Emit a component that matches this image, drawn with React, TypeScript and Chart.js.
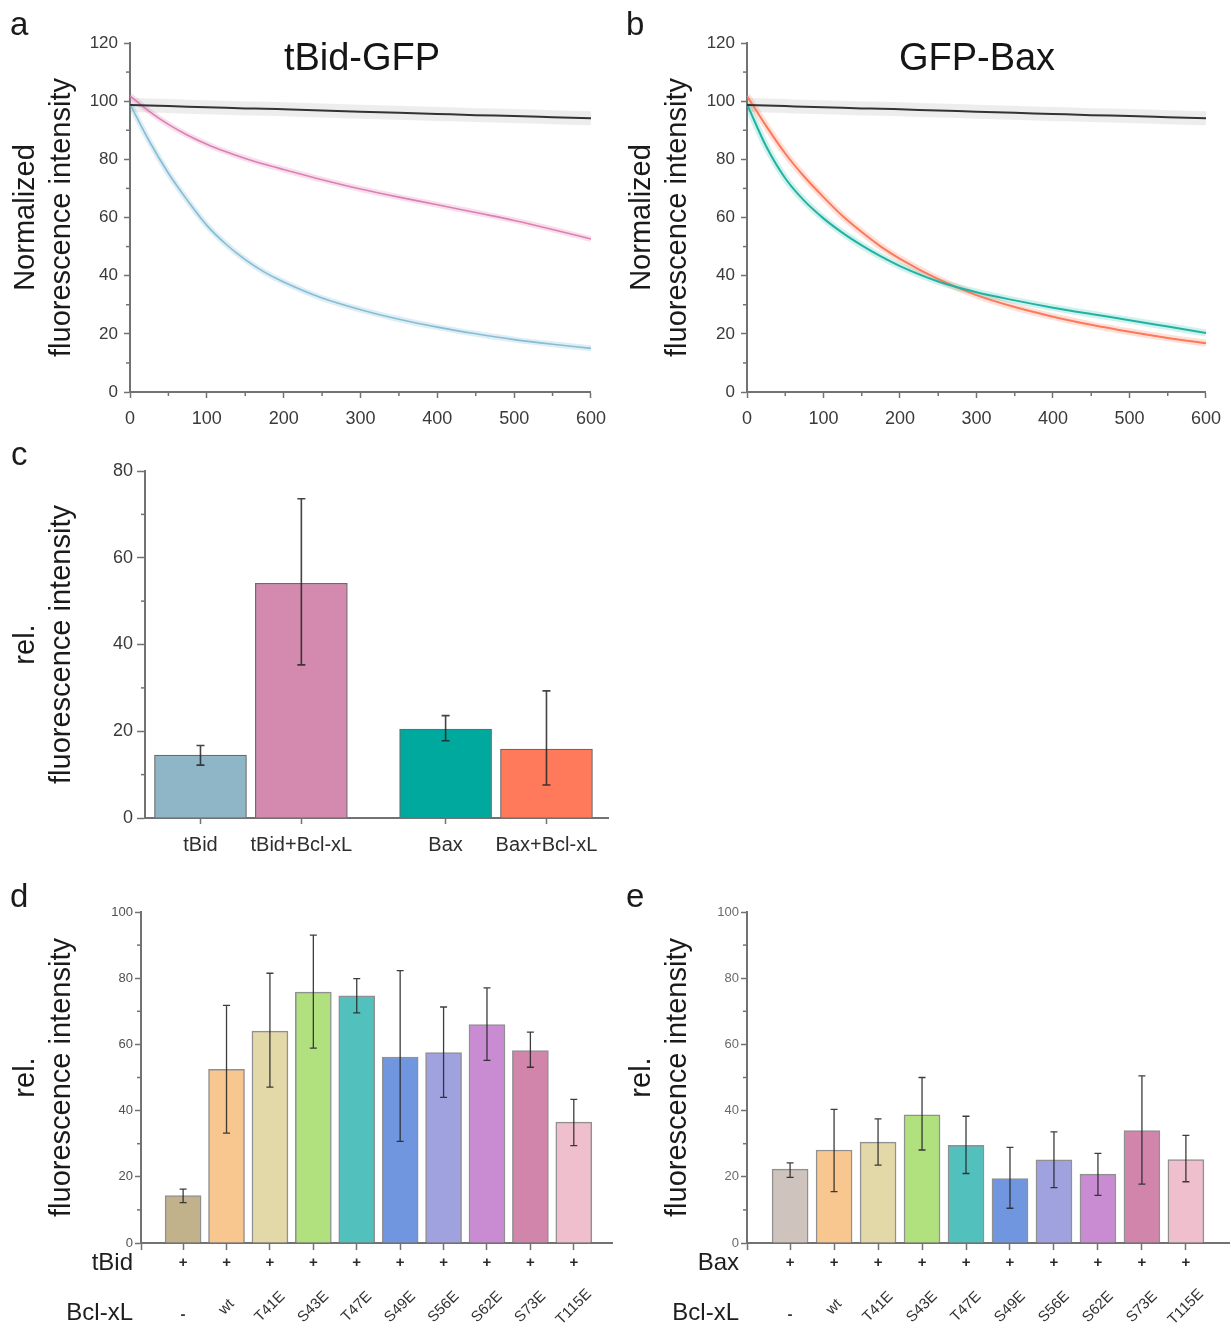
import React, { useEffect, useRef } from 'react';
import { Chart, registerables } from 'chart.js';

Chart.register(...registerables);

// ---------- data ----------
// a / b : fluorescence decay (time in s)
const TIME = [0, 25, 50, 75, 100, 125, 150, 175, 200, 250, 300, 350, 400, 450, 500, 550, 600];
const CTRL = [98.7, 98.5, 98.3, 98.1, 97.9, 97.7, 97.5, 97.4, 97.2, 96.8, 96.4, 96.0, 95.6, 95.2, 94.9, 94.5, 94.1];
const TBID = [99, 86.3, 75.2, 65.8, 57.3, 50.8, 45.5, 41.2, 37.8, 32.3, 28.3, 25, 22.3, 20, 18, 16.4, 15];
const TBID_BCLXL = [101.8, 96.5, 92, 88.3, 85.2, 82.6, 80.3, 78.3, 76.5, 73, 69.8, 67, 64.4, 61.7, 59, 55.9, 52.6];
const BAX = [99, 84.5, 73.5, 65.7, 59.7, 54.7, 50.4, 46.6, 43.3, 38, 34.3, 31.5, 29, 26.8, 24.7, 22.5, 20.3];
const BAX_BCLXL = [101.8, 91.5, 82, 74, 67, 60.5, 55, 50, 45.8, 38.8, 33.3, 29.2, 25.9, 23.1, 20.7, 18.6, 16.8];
const TIME_TICKS = [0, 100, 200, 300, 400, 500, 600];

// c : relative fluorescence intensity
const C_LABELS = ['tBid', 'tBid+Bcl-xL', 'Bax', 'Bax+Bcl-xL'];
const C_MEAN = [14.5, 54.1, 20.5, 15.9];
const C_LO = [12.2, 35.3, 17.8, 7.6];
const C_HI = [16.7, 73.6, 23.6, 29.3];

// d / e : Bcl-xL mutants
const MUTANTS = ['-', 'wt', 'T41E', 'S43E', 'T47E', 'S49E', 'S56E', 'S62E', 'S73E', 'T115E'];
const PLUS_ROW = ['+', '+', '+', '+', '+', '+', '+', '+', '+', '+'];
const D_MEAN = [14.3, 52.5, 64, 75.8, 74.7, 56.2, 57.5, 66, 58.1, 36.5];
const D_LO = [12.2, 33.2, 47.1, 58.9, 69.5, 30.7, 44, 55.2, 53.1, 29.4];
const D_HI = [16.3, 71.8, 81.5, 93, 79.9, 82.3, 71.3, 77.1, 63.7, 43.4];
const E_MEAN = [22.3, 28.1, 30.5, 38.7, 29.5, 19.5, 25.1, 20.8, 34, 25.2];
const E_LO = [19.8, 15.5, 23.5, 28.1, 21, 10.5, 16.7, 14.4, 17.8, 18.5];
const E_HI = [24.2, 40.4, 37.5, 50, 38.3, 28.9, 33.6, 27.1, 50.5, 32.5];

// ---------- styles ----------
const FONT = "'Liberation Sans', Arial, Helvetica, sans-serif";
const AXIS = '#727272';
const C_COLORS = ['#8fb6c6', '#d38aae', '#00a99d', '#ff7a5a'];
const C_SLOTS = [1, 2, 3.43, 4.43];
const D_COLORS = ['#c2b28c', '#f7c78f', '#e3d8a8', '#b1e07f', '#52c0bd', '#6f96de', '#a0a2e0', '#c98bd2', '#d185ab', '#f0bfcd'];
const E_COLORS = ['#cfc3bd', '#f7c78f', '#e3d8a8', '#b1e07f', '#52c0bd', '#6f96de', '#a0a2e0', '#c98bd2', '#d185ab', '#f0bfcd'];

// ---------- plugins ----------
const minorTicksPlugin = {
  id: 'minorTicks',
  afterDraw(chart: any, _a: any, o: any) {
    if (!o || (!o.x && !o.y)) return;
    const ctx = chart.ctx;
    const { left, bottom } = chart.chartArea;
    const len = o.len || 4;
    ctx.save();
    ctx.strokeStyle = o.color || AXIS;
    ctx.lineWidth = 1.5;
    if (o.y) {
      const s = chart.scales.y;
      for (let k = 1; s.min + k * o.y < s.max; k++) {
        if (k % 2 === 0) continue;
        const p = s.getPixelForValue(s.min + k * o.y);
        ctx.beginPath();
        ctx.moveTo(left, p);
        ctx.lineTo(left - len, p);
        ctx.stroke();
      }
    }
    if (o.x) {
      const s = chart.scales.x;
      for (let k = 1; s.min + k * o.x < s.max; k++) {
        if (k % 2 === 0) continue;
        const p = s.getPixelForValue(s.min + k * o.x);
        ctx.beginPath();
        ctx.moveTo(p, bottom);
        ctx.lineTo(p, bottom + len);
        ctx.stroke();
      }
    }
    ctx.restore();
  },
};

const errorBarPlugin = {
  id: 'errorBars',
  afterDatasetsDraw(chart: any, _a: any, o: any) {
    if (!o || !o.lo) return;
    const ctx = chart.ctx;
    const ys = chart.scales.y;
    const meta = chart.getDatasetMeta(0);
    ctx.save();
    ctx.strokeStyle = o.color;
    ctx.lineWidth = o.width;
    meta.data.forEach((bar: any, i: number) => {
      const x = bar.x;
      const y1 = ys.getPixelForValue(o.lo[i]);
      const y2 = ys.getPixelForValue(o.hi[i]);
      ctx.beginPath();
      ctx.moveTo(x, y1);
      ctx.lineTo(x, y2);
      ctx.moveTo(x - o.cap, y1);
      ctx.lineTo(x + o.cap, y1);
      ctx.moveTo(x - o.cap, y2);
      ctx.lineTo(x + o.cap, y2);
      ctx.stroke();
    });
    ctx.restore();
  },
};

const rowsPlugin = {
  id: 'rows',
  afterDraw(chart: any, _a: any, o: any) {
    if (!o || !o.marks) return;
    const ctx = chart.ctx;
    const xs = chart.scales.x;
    const { left, bottom } = chart.chartArea;
    ctx.save();
    ctx.fillStyle = '#1e1e1e';
    ctx.textBaseline = 'middle';
    ctx.font = `24px ${FONT}`;
    ctx.textAlign = 'right';
    ctx.fillText(o.title1, left - 8, bottom + 20);
    ctx.fillText(o.title2, left - 8, bottom + 70);
    ctx.textAlign = 'center';
    ctx.fillStyle = '#2a2a2a';
    ctx.font = `bold 15px ${FONT}`;
    o.marks.forEach((m: string, i: number) => {
      ctx.fillText(m, xs.getPixelForValue(i + 1), bottom + 20);
    });
    ctx.fillStyle = '#333';
    ctx.font = `15px ${FONT}`;
    o.labels.forEach((lab: string, i: number) => {
      const x = xs.getPixelForValue(i + 1);
      ctx.save();
      if (lab === '-') {
        ctx.font = `bold 15px ${FONT}`;
        ctx.translate(x, bottom + 72);
      } else {
        ctx.translate(x, bottom + 64);
        ctx.rotate(-Math.PI / 4);
      }
      ctx.fillText(lab, 0, 0);
      ctx.restore();
    });
    ctx.restore();
  },
};

// ---------- helpers ----------
const pts = (xs: number[], ys: number[]) => xs.map((x, i) => ({ x, y: ys[i] }));

function lineDs(ys: number[], color: string, width: number) {
  return {
    data: pts(TIME, ys),
    borderColor: color,
    borderWidth: width,
    pointRadius: 0,
    cubicInterpolationMode: 'monotone',
    fill: false,
  };
}

function axisTitle(lines: string[]) {
  return {
    display: true,
    text: lines,
    color: '#1a1a1a',
    font: { family: FONT, size: 29, lineHeight: 36 / 29 },
    padding: { top: 8, bottom: 0 },
  };
}

function yAxis(max: number, width: number, fontSize: number, color: string, tl: number, pad: number, lines: string[]) {
  return {
    min: 0,
    max,
    ticks: { stepSize: 20, color, font: { family: FONT, size: fontSize }, padding: pad },
    grid: { drawOnChartArea: false, tickLength: tl, tickColor: AXIS, tickWidth: 1.5 },
    border: { color: AXIS, width: 2 },
    title: axisTitle(lines),
    afterFit: (s: any) => {
      s.width = width;
    },
  };
}

function decayConfig(series: any[], yWidth: number, padRight: number) {
  return {
    type: 'line',
    data: { datasets: series },
    options: {
      responsive: false,
      animation: false,
      events: [],
      layout: { padding: { top: 43, right: padRight, bottom: 8, left: 0 } },
      plugins: {
        legend: { display: false },
        tooltip: { enabled: false },
        minorTicks: { x: 50, y: 10, len: 4, color: AXIS },
      },
      scales: {
        x: {
          type: 'linear',
          min: 0,
          max: 600,
          afterBuildTicks: (s: any) => {
            s.ticks = TIME_TICKS.map((v) => ({ value: v }));
          },
          ticks: { autoSkip: false, maxRotation: 0, color: '#3a3a3a', font: { family: FONT, size: 18 }, padding: 10 },
          grid: { drawOnChartArea: false, tickLength: 6, tickColor: AXIS, tickWidth: 1.5 },
          border: { color: AXIS, width: 2 },
          afterFit: (s: any) => {
            s.height = 40;
          },
        },
        y: yAxis(120, yWidth, 17, '#3a3a3a', 6, 6, ['Normalized', 'fluorescence intensity']),
      },
    },
    plugins: [minorTicksPlugin],
  };
}

function configA() {
  return decayConfig(
    [
      lineDs(CTRL, '#333333', 2),
      lineDs(TBID_BCLXL, '#dc7fb3', 1.6),
      lineDs(TBID, '#86bdd4', 1.6),
      lineDs(CTRL, 'rgba(80,80,80,0.1)', 14),
      lineDs(TBID_BCLXL, 'rgba(225,140,190,0.28)', 6),
      lineDs(TBID, 'rgba(150,200,222,0.3)', 6),
    ],
    130,
    25
  );
}

function configB() {
  return decayConfig(
    [
      lineDs(CTRL, '#333333', 2),
      lineDs(BAX, '#20b3a3', 2),
      lineDs(BAX_BCLXL, '#fb7a5c', 2),
      lineDs(CTRL, 'rgba(80,80,80,0.1)', 14),
      lineDs(BAX, 'rgba(40,190,170,0.22)', 7),
      lineDs(BAX_BCLXL, 'rgba(255,130,100,0.25)', 7),
    ],
    131,
    23
  );
}

function configC() {
  return {
    type: 'bar',
    data: {
      datasets: [
        {
          data: pts(C_SLOTS, C_MEAN),
          backgroundColor: C_COLORS,
          borderColor: '#6a6a6a',
          borderWidth: 1.2,
          barThickness: 92,
        },
      ],
    },
    options: {
      responsive: false,
      animation: false,
      events: [],
      layout: { padding: { top: 31, right: 8, bottom: 8, left: 0 } },
      plugins: {
        legend: { display: false },
        tooltip: { enabled: false },
        minorTicks: { y: 10, len: 4, color: AXIS },
        errorBars: { lo: C_LO, hi: C_HI, color: 'rgba(35,35,35,0.85)', width: 1.6, cap: 4 },
      },
      scales: {
        x: {
          type: 'linear',
          min: 0.45,
          max: 5.04,
          offset: false,
          afterBuildTicks: (s: any) => {
            s.ticks = C_SLOTS.map((v) => ({ value: v }));
          },
          ticks: {
            autoSkip: false,
            maxRotation: 0,
            color: '#2e2e2e',
            font: { family: FONT, size: 20 },
            padding: 9,
            callback: (_v: any, i: number) => C_LABELS[i],
          },
          grid: { drawOnChartArea: false, offset: false, tickLength: 6, tickColor: AXIS, tickWidth: 1.5 },
          border: { color: AXIS, width: 2 },
          afterFit: (s: any) => {
            s.height = 44;
          },
        },
        y: yAxis(80, 145, 18, '#3a3a3a', 8, 4, ['rel.', 'fluorescence intensity']),
      },
    },
    plugins: [minorTicksPlugin, errorBarPlugin],
  };
}

function mutantConfig(mean: number[], lo: number[], hi: number[], colors: string[], rowTitle: string, yWidth: number, xMin: number, xMax: number, padRight: number, tickColor: string) {
  return {
    type: 'bar',
    data: {
      datasets: [
        {
          data: MUTANTS.map((_, i) => ({ x: i + 1, y: mean[i] })),
          backgroundColor: colors,
          borderColor: 'rgba(125,125,125,0.85)',
          borderWidth: 1.5,
          barThickness: 36,
        },
      ],
    },
    options: {
      responsive: false,
      animation: false,
      events: [],
      layout: { padding: { top: 42, right: padRight, bottom: 6, left: 0 } },
      plugins: {
        legend: { display: false },
        tooltip: { enabled: false },
        minorTicks: { y: 10, len: 4, color: AXIS },
        errorBars: { lo, hi, color: 'rgba(40,40,40,0.9)', width: 1.3, cap: 3.5 },
        rows: { title1: rowTitle, title2: 'Bcl-xL', marks: PLUS_ROW, labels: MUTANTS },
      },
      scales: {
        x: {
          type: 'linear',
          min: xMin,
          max: xMax,
          offset: false,
          afterBuildTicks: (s: any) => {
            s.ticks = [xMin, ...MUTANTS.map((_, i) => i + 1)].map((v) => ({ value: v }));
          },
          ticks: { display: false, autoSkip: false },
          grid: { drawOnChartArea: false, offset: false, tickLength: 7, tickColor: AXIS, tickWidth: 1.5 },
          border: { color: AXIS, width: 2 },
          afterFit: (s: any) => {
            s.height = 80;
          },
        },
        y: {
          ...yAxis(100, yWidth, 13, tickColor, 6, 2, ['rel.', 'fluorescence intensity']),
        },
      },
    },
    plugins: [minorTicksPlugin, errorBarPlugin, rowsPlugin],
  };
}

function configD() {
  return mutantConfig(D_MEAN, D_LO, D_HI, D_COLORS, 'tBid', 141, 0.03, 10.88, 4, '#505050');
}

function configE() {
  return mutantConfig(E_MEAN, E_LO, E_HI, E_COLORS, 'Bax', 131, 0.02, 10.98, 2, '#6a6a6a');
}

// ---------- components ----------
function Panel({ left, top, width, height, make }: { left: number; top: number; width: number; height: number; make: () => any }) {
  const ref = useRef<HTMLCanvasElement>(null);
  useEffect(() => {
    const chart = new Chart(ref.current as HTMLCanvasElement, make());
    return () => chart.destroy();
  }, []);
  return (
    <div style={{ position: 'absolute', left, top, width, height }}>
      <canvas ref={ref} width={width} height={height} style={{ display: 'block', width, height }} />
    </div>
  );
}

const letterStyle = (left: number, top: number): React.CSSProperties => ({
  position: 'absolute',
  left,
  top,
  fontFamily: FONT,
  fontSize: 33,
  lineHeight: '33px',
  color: '#1a1a1a',
});

const titleStyle = (cx: number): React.CSSProperties => ({
  position: 'absolute',
  left: cx - 120,
  width: 240,
  top: 38,
  textAlign: 'center',
  fontFamily: FONT,
  fontSize: 38,
  lineHeight: '38px',
  color: '#151515',
});

export default function App() {
  return (
    <div
      style={{
        position: 'absolute',
        left: 0,
        top: 0,
        width: 1231,
        height: 1329,
        background: '#ffffff',
        overflow: 'hidden',
      }}
    >
      <Panel left={0} top={0} width={616} height={440} make={configA} />
      <Panel left={616} top={0} width={615} height={440} make={configB} />
      <Panel left={0} top={440} width={616} height={430} make={configC} />
      <Panel left={0} top={870} width={616} height={459} make={configD} />
      <Panel left={616} top={870} width={615} height={459} make={configE} />
      <div style={titleStyle(362)}>tBid-GFP</div>
      <div style={titleStyle(977)}>GFP-Bax</div>
      <div style={letterStyle(10, 7)}>a</div>
      <div style={letterStyle(626, 7)}>b</div>
      <div style={letterStyle(11, 437)}>c</div>
      <div style={letterStyle(10, 879)}>d</div>
      <div style={letterStyle(626, 879)}>e</div>
    </div>
  );
}
